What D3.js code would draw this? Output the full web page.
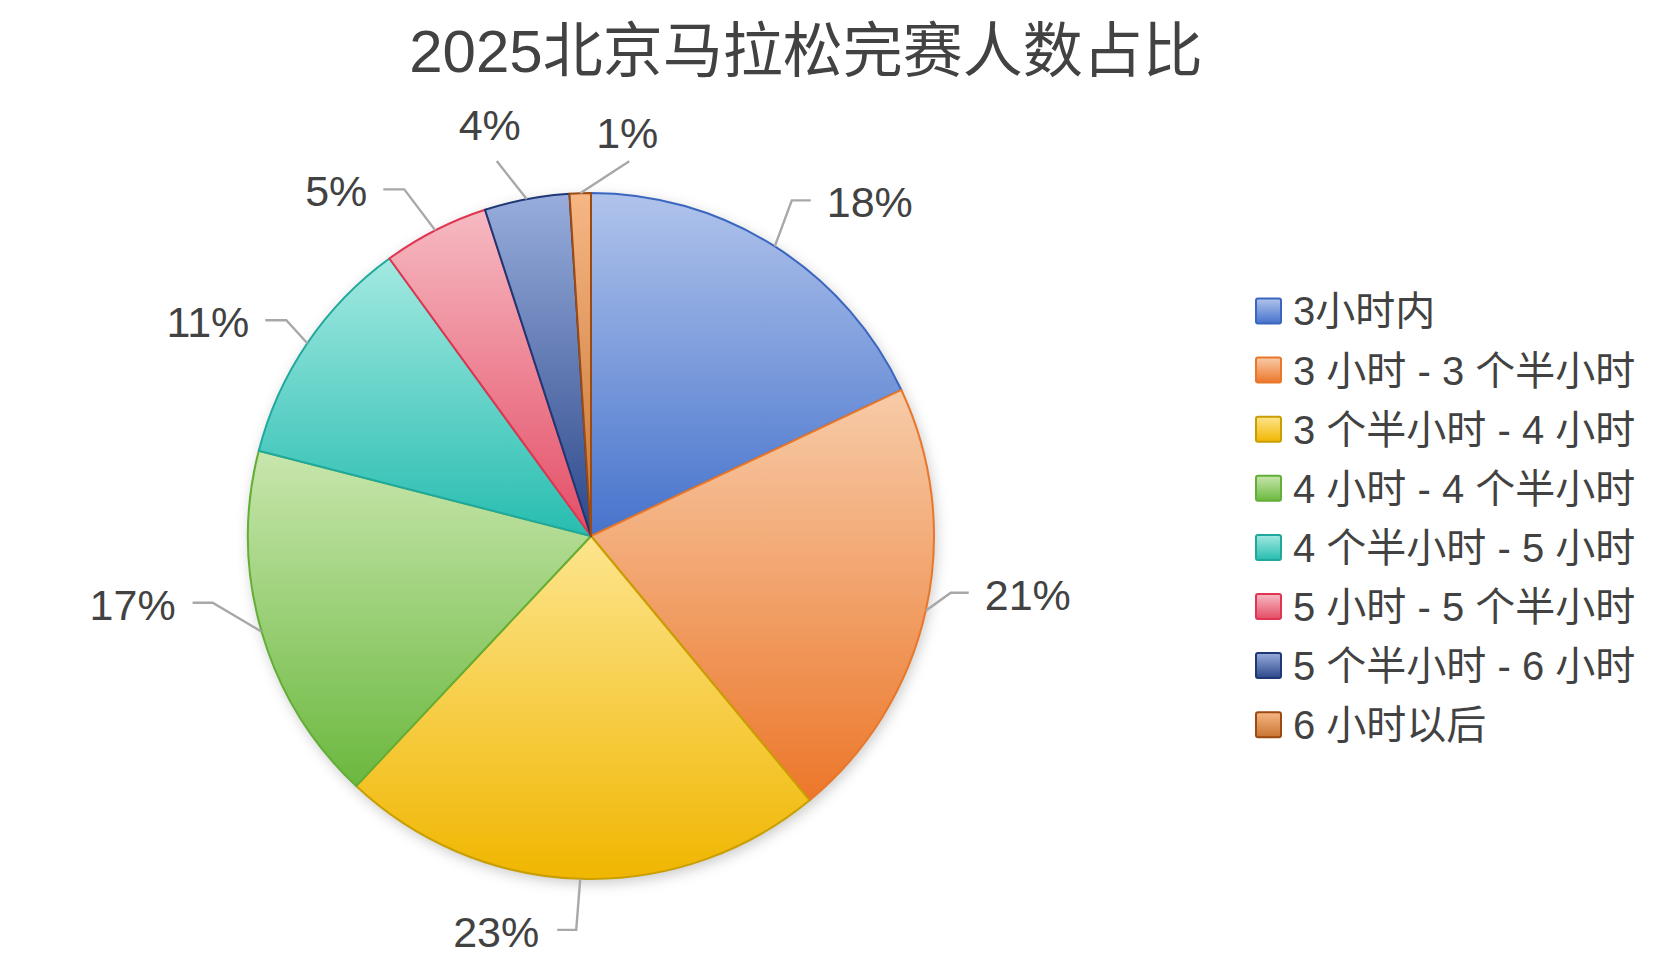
<!DOCTYPE html>
<html>
<head>
<meta charset="utf-8">
<script src="https://cdn.jsdelivr.net/npm/d3@7/dist/d3.min.js"></script>
<style>
  html, body { margin: 0; padding: 0; background: #fff; }
  svg { display: block; }
  text { font-family: "Liberation Sans", "Noto Sans CJK SC", sans-serif; fill: #424242; }
</style>
</head>
<body>
<svg id="chart" width="1654" height="968"></svg>
<script>
// ---- data ----
const title = "2025北京马拉松完赛人数占比";
const categories = ["3小时内", "3 小时 - 3 个半小时", "3 个半小时 - 4 小时", "4 小时 - 4 个半小时",
                    "4 个半小时 - 5 小时", "5 小时 - 5 个半小时", "5 个半小时 - 6 小时", "6 小时以后"];
const shares = [18, 21, 23, 17, 11, 5, 4, 1];   // percent

// ---- style ----
const lightColors  = ["#B0C3EB", "#F7CBA8", "#FDE58E", "#C8E6AD", "#A3E9E1", "#F6BAC2", "#98ADDC", "#F6B784"];
const darkColors   = ["#4673CC", "#EC772A", "#F0B600", "#6BB83E", "#27BDB0", "#E44D66", "#2C488A", "#C87432"];
const strokeColors = ["#3A66C0", "#E8772A", "#C99E00", "#62AE36", "#1FA89C", "#DE3550", "#1E3775", "#9B4A12"];
// leader-line layout: bend offset from slice edge, horizontal tail, label placement
const leaderLayout = [
  { dx: 17,  dy: -46, tail: 19,  anchor: "start",  gap: 16 },
  { dx: 25,  dy: -18, tail: 18,  anchor: "start",  gap: 16 },
  { dx: -4,  dy: 51,  tail: -19, anchor: "end",    gap: 18 },
  { dx: -49, dy: -29, tail: -20, anchor: "end",    gap: 17 },
  { dx: -21, dy: -23, tail: -21, anchor: "end",    gap: 16 },
  { dx: -31, dy: -41, tail: -21, anchor: "end",    gap: 16 },
  { dx: -30, dy: -38, tail: 0,   anchor: "middle", lx: -7, ly: -21 },
  { dx: 49,  dy: -32, tail: 0,   anchor: "middle", lx: -2, ly: -13 }
];

const svg = d3.select("#chart");
const cx = 591, cy = 536, R = 343;

const defs = svg.append("defs");
categories.forEach((c, i) => {
  const g = defs.append("linearGradient").attr("id", "grad" + i)
    .attr("x1", 0).attr("y1", 0).attr("x2", 0).attr("y2", 1);
  g.append("stop").attr("offset", "0%").attr("stop-color", lightColors[i]);
  g.append("stop").attr("offset", "100%").attr("stop-color", darkColors[i]);
});
const f = defs.append("filter").attr("id", "shadow")
  .attr("x", "-10%").attr("y", "-10%").attr("width", "120%").attr("height", "120%");
f.append("feDropShadow").attr("dx", 2).attr("dy", 4).attr("stdDeviation", 7)
  .attr("flood-color", "#000").attr("flood-opacity", 0.22);

// title
svg.append("text").attr("x", 806).attr("y", 72).attr("text-anchor", "middle")
  .style("font-size", "60px").text(title);

// pie
const pie = d3.pie().sort(null).value(d => d)(shares);
const arc = d3.arc().innerRadius(0).outerRadius(R);
const g = svg.append("g").attr("transform", `translate(${cx},${cy})`);

g.append("circle").attr("r", R).attr("fill", "#fff").attr("filter", "url(#shadow)");
g.selectAll("path.slice").data(pie).join("path")
  .attr("class", "slice")
  .attr("d", arc)
  .attr("fill", (d, i) => `url(#grad${i})`)
  .attr("stroke", (d, i) => strokeColors[i])
  .attr("stroke-width", 2)
  .attr("stroke-linejoin", "round");

// labels with leader lines
pie.forEach((d, i) => {
  const L = leaderLayout[i];
  const a = (d.startAngle + d.endAngle) / 2;
  const x0 = Math.sin(a) * R, y0 = -Math.cos(a) * R;
  const x1 = x0 + L.dx, y1 = y0 + L.dy;
  const x2 = x1 + L.tail;
  const pts = L.tail ? [[x0, y0], [x1, y1], [x2, y1]] : [[x0, y0], [x1, y1]];
  g.append("path").attr("d", d3.line()(pts))
    .attr("fill", "none").attr("stroke", "#A8A8A8").attr("stroke-width", 2.4);
  const label = g.append("text").attr("text-anchor", L.anchor).style("font-size", "43px")
    .text(shares[i] + "%");
  if (L.tail) {
    label.attr("x", x2 + Math.sign(L.tail) * L.gap).attr("y", y1 + 2).attr("dy", "0.35em");
  } else {
    label.attr("x", x1 + L.lx).attr("y", y1 + L.ly);
  }
});

// legend
const legend = svg.append("g").attr("transform", "translate(1255,311)");
const rowH = 59.1;
categories.forEach((c, i) => {
  const row = legend.append("g").attr("transform", `translate(0,${i * rowH})`);
  row.append("rect").attr("x", 1).attr("y", -12.5).attr("width", 25).attr("height", 25).attr("rx", 2)
    .attr("fill", `url(#grad${i})`).attr("stroke", strokeColors[i]).attr("stroke-width", 2);
  row.append("text").attr("x", 38).attr("y", 0).attr("dy", "0.36em")
    .style("font-size", "40px").text(c);
});
</script>
</body>
</html>
